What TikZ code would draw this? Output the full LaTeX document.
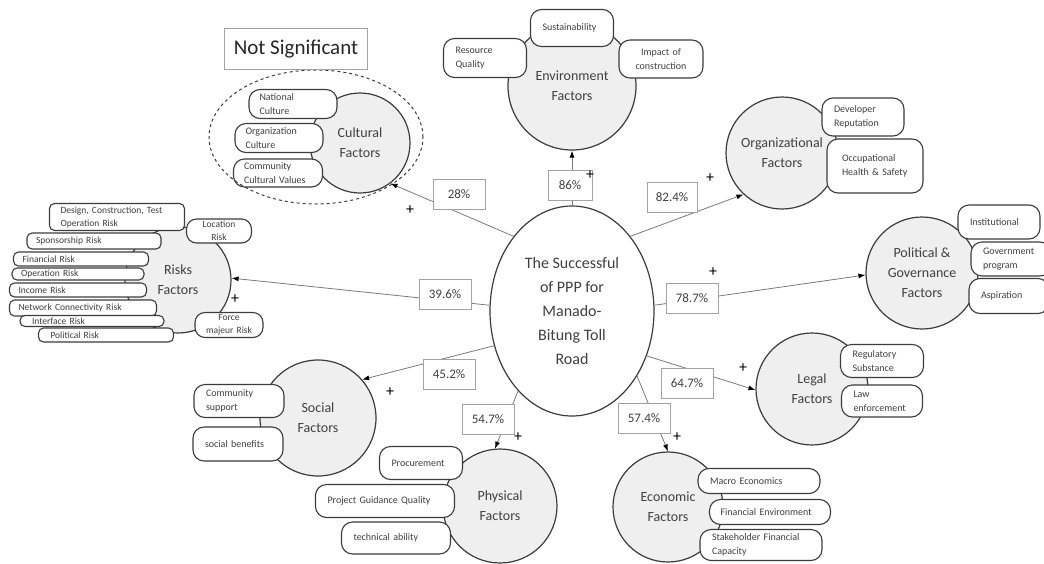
\documentclass[tikz,border=0pt]{standalone}
\usepackage{fontspec}
\setmainfont{Carlito}
\usetikzlibrary{arrows.meta, shapes.geometric}
\definecolor{factorGrey}{HTML}{EFEFEF}
\definecolor{outlineDark}{HTML}{3C3C3C}
\definecolor{linkGrey}{HTML}{7A7A7A}
\definecolor{labelText}{HTML}{404040}

\begin{document}
\begin{tikzpicture}[x=1pt, y=-1pt,
  factor/.style={circle, draw=outlineDark, fill=factorGrey, line width=1.2pt,
    align=center, inner sep=0pt, text=labelText, font=\fontsize{14}{20}\selectfont},
  item/.style={draw=outlineDark, fill=white, line width=1.1pt, rounded corners=11pt,
    align=left, inner xsep=12pt, inner ysep=0pt, text=labelText,
    font=\fontsize{10}{14}\selectfont},
  riskitem/.style={item, rounded corners=5pt, inner xsep=9pt,
    font=\fontsize{9.5}{13}\selectfont},
  share/.style={draw=linkGrey!70, fill=white, line width=0.6pt, minimum width=52pt,
    minimum height=30pt, inner sep=0pt, text=labelText, font=\fontsize{13}{15}\selectfont},
  link/.style={linkGrey, line width=0.8pt, -{Latex[length=7pt, width=5pt, black]}},
  plus/.style={inner sep=0pt, font=\fontsize{16}{16}\selectfont}]
  \useasboundingbox (0,0) rectangle (1044,563);

  % Factor circles
  \node[factor, minimum size=100pt] (cult) at (360,143) {Cultural\\Factors};
  \node[factor, minimum size=128pt] (env) at (572,86) {Environment\\Factors};
  \node[factor, minimum size=112pt] (org) at (782,153) {Organizational\\Factors};
  \node[factor, minimum size=112pt] (pol) at (922,273) {Political \&\\Governance\\Factors};
  \node[factor, minimum size=112pt] (legal) at (812,389) {Legal\\Factors};
  \node[factor, minimum size=110pt] (econ) at (668,507) {Economic\\Factors};
  \node[factor, minimum size=114pt] (phys) at (500,506) {Physical\\Factors};
  \node[factor, minimum size=116pt] (soc) at (318,418) {Social\\Factors};
  \node[factor, minimum size=106pt] (risk) at (178,280) {Risks\\Factors};

  % Cultural items
  \node[item, inner xsep=10.5pt, text width=67pt, minimum height=29pt] (cultNat) at (293,104) {National\\Culture};
  \node[item, inner xsep=10.5pt, text width=67pt, minimum height=29pt] (cultOrg) at (279,138) {Organization\\Culture};
  \node[item, inner xsep=10.5pt, text width=68pt, minimum height=28pt] (cultCom) at (278,173) {Community\\Cultural Values};

  % Environment items
  \node[item, text width=59pt, minimum height=37pt] (envSus) at (572,28) {Sustainability};
  \node[item, text width=59pt, minimum height=39pt] (envRes) at (485,58) {Resource\\Quality};
  \node[item, align=center, text width=60pt, minimum height=38pt] (envImp) at (661,59) {Impact of\\construction};

  % Organizational items
  \node[item, text width=58pt, minimum height=38pt] (orgDev) at (863,117) {Developer\\Reputation};
  \node[item, inner xsep=15pt, text width=66pt, minimum height=54pt] (orgOcc) at (875,166) {Occupational\\Health \& Safety};

  % Political items
  \node[item, text width=58pt, minimum height=34pt] (polIns) at (999,222) {Institutional};
  \node[item, text width=56pt, minimum height=34pt] (polGov) at (1011,259) {Government\\program};
  \node[item, text width=56pt, minimum height=35pt] (polAsp) at (1009,296) {Aspiration};

  % Legal items
  \node[item, text width=59pt, minimum height=33pt] (legReg) at (882,361) {Regulatory\\Substance};
  \node[item, text width=57pt, minimum height=32pt] (legLaw) at (882,401) {Law\\enforcement};

  % Economic items
  \node[item, text width=98pt, minimum height=25pt] (ecoMac) at (759,481) {Macro Economics};
  \node[item, inner xsep=11pt, text width=99pt, minimum height=25pt] (ecoFin) at (770,512) {Financial Environment};
  \node[item, text width=98pt, minimum height=31pt] (ecoSta) at (761,545) {Stakeholder Financial\\Capacity};

  % Physical items
  \node[item, text width=59pt, minimum height=33pt] (phyPro) at (421,463) {Procurement};
  \node[item, text width=115pt, minimum height=33pt] (phyGui) at (385,501) {Project Guidance Quality};
  \node[item, text width=85pt, minimum height=32pt] (phyTec) at (396,538) {technical ability};

  % Social items
  \node[item, text width=66pt, minimum height=33pt] (socCom) at (239,401) {Community\\support};
  \node[item, text width=66pt, minimum height=34pt] (socBen) at (238,444) {social benefits};

  % Risk items
  \node[riskitem, inner xsep=11pt, text width=113pt, minimum height=27pt] (rDes) at (117,217) {Design, Construction, Test\\Operation Risk};
  \node[riskitem, align=center, rounded corners=10pt, inner xsep=4pt, text width=57pt, minimum height=24pt] (rLoc) at (219,231) {Location\\Risk};
  \node[riskitem, text width=116pt, minimum height=16pt] (rSpo) at (94,241) {Sponsorship Risk};
  \node[riskitem, text width=117pt, minimum height=14pt] (rFin) at (81,259) {Financial Risk};
  \node[riskitem, text width=114pt, minimum height=12pt] (rOpe) at (78,274) {Operation Risk};
  \node[riskitem, text width=119pt, minimum height=14pt] (rInc) at (78,290) {Income Risk};
  \node[riskitem, text width=129pt, minimum height=16pt] (rNet) at (83,308) {Network Connectivity Risk};
  \node[riskitem, inner xsep=12pt, text width=120pt, minimum height=11pt] (rInt) at (92,321) {Interface Risk};
  \node[riskitem, inner xsep=12pt, text width=111pt, minimum height=14pt] (rPol) at (106,335) {Political Risk};
  \node[riskitem, align=center, rounded corners=10pt, inner xsep=4pt, text width=60pt, minimum height=25pt] (rFor) at (229,325) {Force\\majeur Risk};

  % Main goal
  \node[ellipse, draw=outlineDark, fill=white, line width=1.2pt, minimum width=164pt,
    minimum height=210pt, align=center, inner sep=0pt, text=labelText,
    font=\fontsize{16}{24}\selectfont] (ppp) at (572,311)
    {The Successful\\of PPP for\\Manado-\\Bitung Toll\\Road};

  % Links
  \draw[link] (ppp.128.5) -- (cult.-53);
  \draw[link] (ppp.90) -- (env.-90);
  \draw[link] (ppp.52) -- (org.227);
  \draw[link] (ppp.4) -- (pol.182);
  \draw[link] (ppp.-31) -- (legal.181);
  \draw[link] (ppp.-45.5) -- (econ.90);
  \draw[link] (ppp.-124) -- (phys.95);
  \draw[link] (ppp.204.5) -- (soc.41);
  \draw[link] (ppp.176.5) -- (risk.2);

  % Shares
  \node[share] (pCult) at (459,194) {28\%};
  \node[share, minimum width=44pt] (pEnv) at (570,185) {86\%};
  \node[share, minimum width=50pt] (pOrg) at (672,197) {82.4\%};
  \node[share] (pPol) at (692,298) {78.7\%};
  \node[share] (pLeg) at (687,383) {64.7\%};
  \node[share] (pEco) at (644,418) {57.4\%};
  \node[share] (pPhy) at (488,419) {54.7\%};
  \node[share] (pSoc) at (449,374) {45.2\%};
  \node[share] (pRis) at (445,294) {39.6\%};

  % Signs
  \node[plus] (sCult) at (410,210) {+};
  \node[plus] (sEnv) at (590,175) {+};
  \node[plus] (sOrg) at (710,178) {+};
  \node[plus] (sPol) at (713,272) {+};
  \node[plus] (sLeg) at (743,368) {+};
  \node[plus] (sEco) at (677,437) {+};
  \node[plus] (sPhy) at (518,437) {+};
  \node[plus] (sSoc) at (390,392) {+};
  \node[plus] (sRis) at (235,299) {+};

  % Not significant group
  \node[ellipse, draw=outlineDark, dashed, line width=1pt, minimum width=214pt,
    minimum height=134pt] (lowZone) at (316,137) {};
  \node[draw=linkGrey!70, line width=0.6pt, minimum width=143pt, minimum height=41pt,
    inner sep=0pt, text=black!85, font=\fontsize{21}{25}\selectfont] (lowNote) at (296,49) {Not Significant};
\end{tikzpicture}
\end{document}
